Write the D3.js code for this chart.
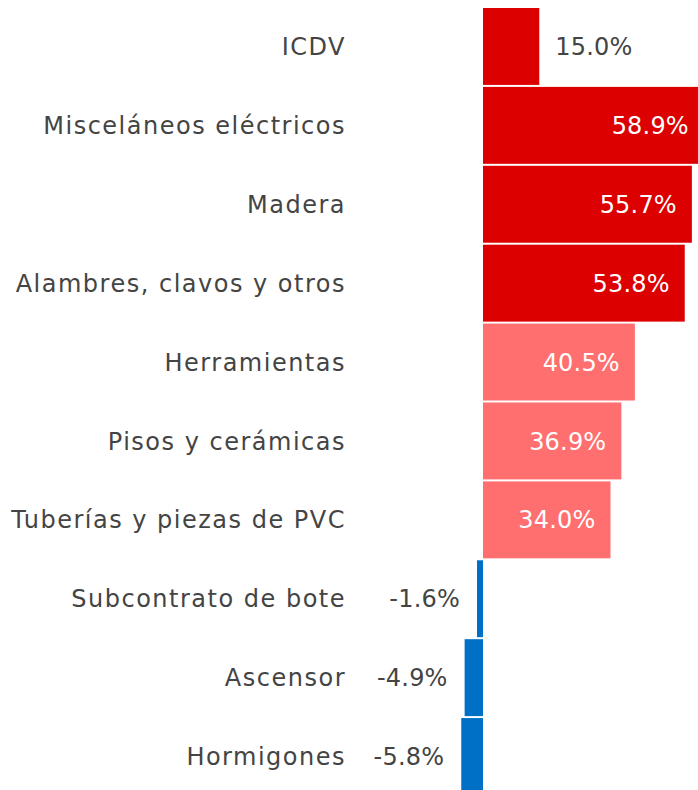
<!DOCTYPE html>
<html>
<head>
<meta charset="utf-8">
<script src="https://cdn.jsdelivr.net/npm/d3@7"></script>
<style>
  html, body { margin: 0; padding: 0; background: #fff; }
  svg { display: block; }
  text { font-family: "DejaVu Sans", sans-serif; }
</style>
</head>
<body>
<svg id="chart" width="698" height="790"></svg>
<script>
// Datos del gráfico
const categories = [
  "ICDV",
  "Misceláneos eléctricos",
  "Madera",
  "Alambres, clavos y otros",
  "Herramientas",
  "Pisos y cerámicas",
  "Tuberías y piezas de PVC",
  "Subcontrato de bote",
  "Ascensor",
  "Hormigones"
];
const values = [15.0, 58.9, 55.7, 53.8, 40.5, 36.9, 34.0, -1.6, -4.9, -5.8];
const groups = ["total", "alto", "alto", "alto", "medio", "medio", "medio", "neg", "neg", "neg"];

const colors = { total: "#DC0000", alto: "#DC0000", medio: "#FF6F6F", neg: "#0070C6" };

const svg = d3.select("#chart");

// Escalas: cero en x≈483, 3.75 px por punto porcentual
const x = d3.scaleLinear().domain([0, 10]).range([483, 520.5]);
const y = d3.scaleBand().domain(categories).range([8, 795]).paddingInner(0.025);

const fmtPct = v => v.toFixed(1) + "%";

// Barras
svg.append("g").selectAll("rect")
  .data(values)
  .join("rect")
    .attr("x", d => x(Math.min(0, d)))
    .attr("y", (d, i) => y(categories[i]))
    .attr("width", d => Math.abs(x(d) - x(0)))
    .attr("height", y.bandwidth())
    .attr("fill", (d, i) => colors[groups[i]]);

// Etiquetas de categoría
svg.append("g").selectAll("text")
  .data(categories)
  .join("text")
    .attr("x", 346)
    .attr("y", d => y(d) + y.bandwidth() / 2)
    .attr("dy", "0.36em")
    .attr("text-anchor", "end")
    .attr("font-size", 24)
    .attr("letter-spacing", 1.5)
    .attr("fill", "#444")
    .text(d => d);

// Etiquetas de valor
svg.append("g").selectAll("text")
  .data(values)
  .join("text")
    .attr("y", (d, i) => y(categories[i]) + y.bandwidth() / 2)
    .attr("dy", "0.36em")
    .attr("font-size", 24)
    .attr("letter-spacing", 0.2)
    .each(function(d, i) {
      const t = d3.select(this);
      const end = Math.min(x(d), 706);
      if (d < 0) {
        t.attr("x", x(d) - 17).attr("text-anchor", "end").attr("fill", "#444");
      } else if (d < 20) {
        t.attr("x", x(d) + 16).attr("text-anchor", "start").attr("fill", "#444");
      } else {
        t.attr("x", end - 15).attr("text-anchor", "end").attr("fill", "#fff");
      }
    })
    .text(d => fmtPct(d));
</script>
</body>
</html>
